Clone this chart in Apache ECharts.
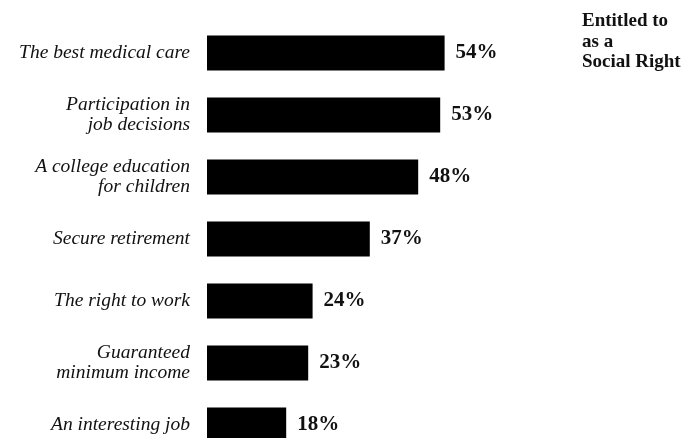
<!DOCTYPE html>
<html>
<head>
<meta charset="utf-8">
<script src="https://cdn.jsdelivr.net/npm/echarts@6/dist/echarts.min.js"></script>
<style>
  html, body { margin: 0; padding: 0; background: #fff; }
  #chart { width: 695px; height: 438px; }
</style>
</head>
<body>
<div id="chart"></div>
<script>
// categories, top to bottom
const items = [
  'The best medical care',
  'Participation in\njob decisions',
  'A college education\nfor children',
  'Secure retirement',
  'The right to work',
  'Guaranteed\nminimum income',
  'An interesting job'
];
// percent saying "entitled to as a social right"
const shares = [54, 53, 48, 37, 24, 23, 18];

const serif = '"Liberation Serif", "DejaVu Serif", serif';

// two-line labels sit a little low against their bar
const categoryData = items.map(v => v.includes('\n')
  ? { value: v, textStyle: { padding: [6, 0, 0, 0] } }
  : v);

const chart = echarts.init(document.getElementById('chart'));
chart.setOption({
  animation: false,
  title: {
    text: 'Entitled to\nas a\nSocial Right',
    left: 577,
    top: 6,
    textStyle: {
      fontFamily: serif,
      fontWeight: 'bold',
      fontSize: 19,
      lineHeight: 20.5,
      color: '#111'
    }
  },
  grid: { left: 207, top: 22, width: 440, height: 434, outerBoundsMode: 'none' },
  xAxis: {
    type: 'value',
    min: 0,
    max: 100,
    show: false
  },
  yAxis: {
    type: 'category',
    data: categoryData,
    inverse: true,
    axisLine: { show: false },
    axisTick: { show: false },
    splitLine: { show: false },
    axisLabel: {
      margin: 17,
      fontFamily: serif,
      fontStyle: 'italic',
      fontSize: 19.5,
      lineHeight: 20,
      color: '#111'
    }
  },
  series: [{
    type: 'bar',
    data: shares,
    barWidth: 35,
    itemStyle: { color: '#000' },
    label: {
      show: true,
      position: 'right',
      distance: 11,
      formatter: '{c}%',
      fontFamily: serif,
      fontWeight: 'bold',
      fontSize: 21,
      color: '#111'
    }
  }]
});
</script>
</body>
</html>
